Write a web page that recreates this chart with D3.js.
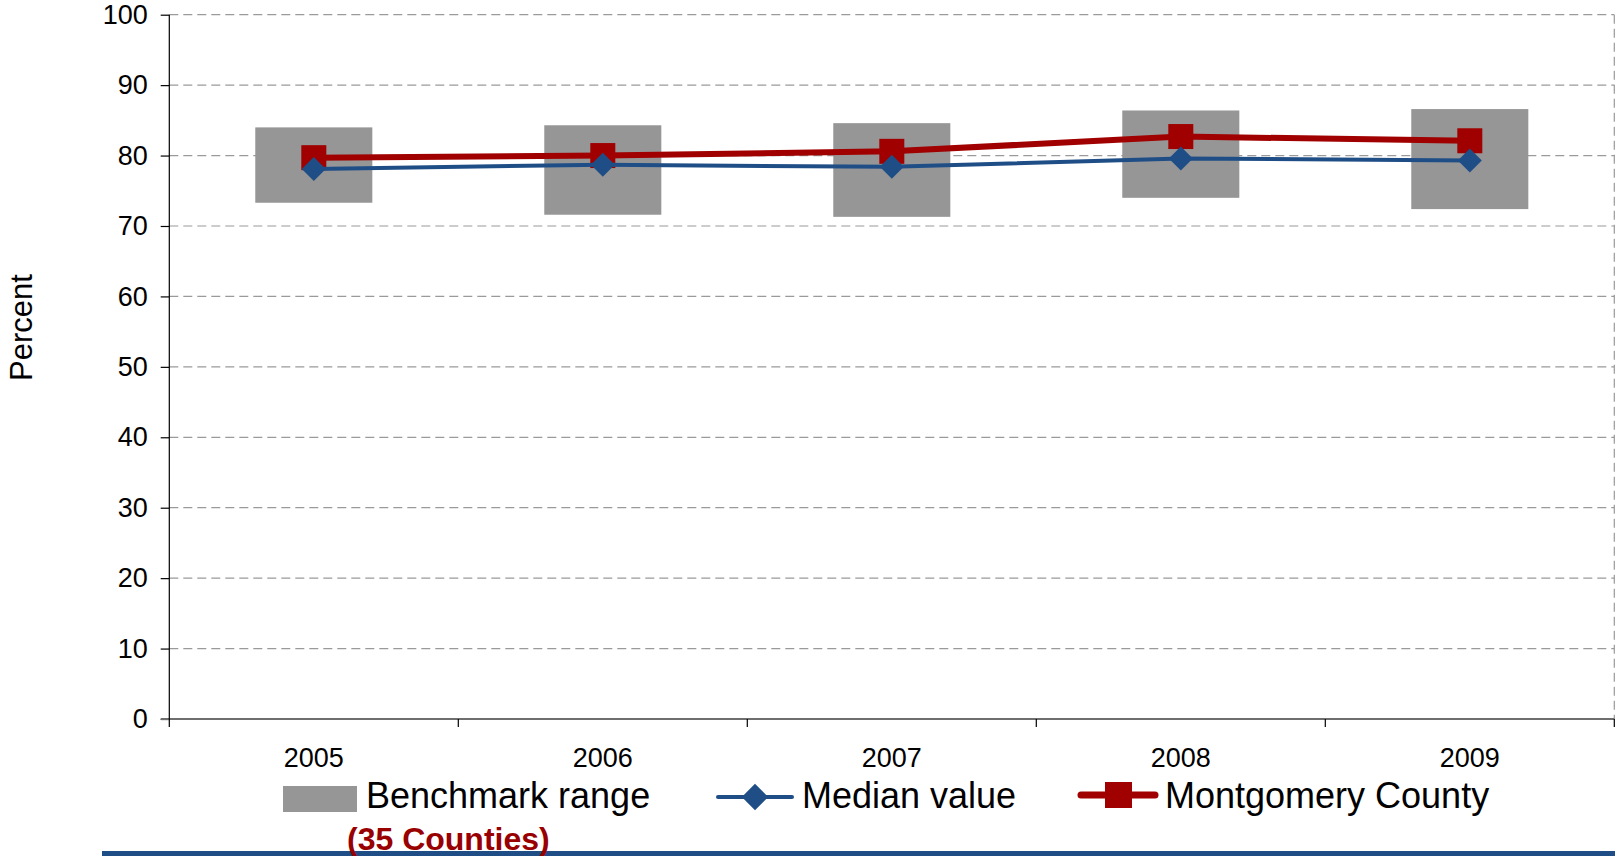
<!DOCTYPE html>
<html>
<head>
<meta charset="utf-8">
<title>Benchmark range</title>
<style>
  body { margin: 0; background: #fff; }
  text { font-family: "Liberation Sans", Arial, sans-serif; }
</style>
</head>
<body>
<script src="https://cdn.jsdelivr.net/npm/d3@7"></script>
<script>
// data
var years = ["2005", "2006", "2007", "2008", "2009"];
var rangeLow = [73.3, 71.6, 71.3, 74.0, 72.4];
var rangeHigh = [84.0, 84.3, 84.6, 86.4, 86.6];
var medianValue = [78.1, 78.7, 78.4, 79.6, 79.3];
var countyValue = [79.7, 80.0, 80.6, 82.7, 82.1];
var yTicks = [0, 10, 20, 30, 40, 50, 60, 70, 80, 90, 100];

var width = 1615, height = 856;
var plotLeft = 169.3, plotRight = 1614.3, plotTop = 14.7, plotBottom = 719;

var svg = d3.select("body").append("svg")
    .attr("width", width)
    .attr("height", height);

var x = d3.scaleBand().domain(years).range([plotLeft, plotRight]).padding(0);
var y = d3.scaleLinear().domain([0, 100]).range([plotBottom, plotTop]);

// gridlines
svg.append("g").selectAll("line")
    .data(yTicks.filter(function(d){ return d > 0; }))
    .enter().append("line")
    .attr("x1", plotLeft).attr("x2", plotRight)
    .attr("y1", function(d){ return y(d); })
    .attr("y2", function(d){ return y(d); })
    .attr("stroke", "#9a9a9a")
    .attr("stroke-width", 1.2)
    .attr("stroke-dasharray", "9,5");

// right dashed border
svg.append("line")
    .attr("x1", plotRight).attr("x2", plotRight)
    .attr("y1", plotTop).attr("y2", plotBottom)
    .attr("stroke", "#9a9a9a")
    .attr("stroke-width", 1.2)
    .attr("stroke-dasharray", "9,5");

// y axis
var yAxis = svg.append("g")
    .attr("transform", "translate(" + plotLeft + ",0)")
    .call(d3.axisLeft(y).tickValues(yTicks).tickSize(8.6).tickPadding(13));
yAxis.select(".domain").remove();
yAxis.selectAll(".tick line").attr("stroke", "#000").attr("stroke-width", 1.2);
yAxis.selectAll(".tick text")
    .attr("font-size", 27)
    .attr("font-family", "Liberation Sans, Arial, sans-serif")
    .attr("fill", "#000");

// x axis
svg.append("line")
    .attr("x1", plotLeft - 8.6).attr("x2", plotRight)
    .attr("y1", plotBottom).attr("y2", plotBottom)
    .attr("stroke", "#6e6e6e").attr("stroke-width", 1.8);
svg.append("line")
    .attr("x1", plotLeft).attr("x2", plotLeft)
    .attr("y1", plotTop).attr("y2", plotBottom + 8)
    .attr("stroke", "#000").attr("stroke-width", 1.2);

var bounds = years.map(function(d){ return x(d); }).concat([plotRight]);
svg.append("g").selectAll("line")
    .data(bounds.slice(1))
    .enter().append("line")
    .attr("x1", function(d){ return d; }).attr("x2", function(d){ return d; })
    .attr("y1", plotBottom).attr("y2", plotBottom + 8)
    .attr("stroke", "#000").attr("stroke-width", 1.2);

svg.append("g").selectAll("text")
    .data(years)
    .enter().append("text")
    .attr("x", function(d){ return x(d) + x.bandwidth() / 2; })
    .attr("y", 767)
    .attr("text-anchor", "middle")
    .attr("font-size", 27)
    .text(function(d){ return d; });

// y title
svg.append("text")
    .attr("transform", "translate(32,327.5) rotate(-90)")
    .attr("text-anchor", "middle")
    .attr("font-size", 31)
    .text("Percent");

// benchmark range boxes
var boxW = x.bandwidth() * 0.405;
svg.append("g").selectAll("rect")
    .data(years)
    .enter().append("rect")
    .attr("x", function(d){ return x(d) + x.bandwidth() / 2 - boxW / 2; })
    .attr("y", function(d, i){ return y(rangeHigh[i]); })
    .attr("width", boxW)
    .attr("height", function(d, i){ return y(rangeLow[i]) - y(rangeHigh[i]); })
    .attr("fill", "#969696");

var cx = function(d, i){ return x(years[i]) + x.bandwidth() / 2; };

// Montgomery County
var line = d3.line().x(cx).y(function(d){ return y(d); });
svg.append("path")
    .datum(countyValue)
    .attr("d", line)
    .attr("fill", "none")
    .attr("stroke", "#a00000")
    .attr("stroke-width", 6);
svg.append("g").selectAll("rect")
    .data(countyValue)
    .enter().append("rect")
    .attr("x", function(d, i){ return cx(d, i) - 12.5; })
    .attr("y", function(d){ return y(d) - 12.5; })
    .attr("width", 25).attr("height", 25)
    .attr("fill", "#a00000");

// Median value
svg.append("path")
    .datum(medianValue)
    .attr("d", line)
    .attr("fill", "none")
    .attr("stroke", "#1f4e87")
    .attr("stroke-width", 4);
var diamond = "M0,-12 L12,0 L0,12 L-12,0 Z";
svg.append("g").selectAll("path")
    .data(medianValue)
    .enter().append("path")
    .attr("transform", function(d, i){ return "translate(" + cx(d, i) + "," + y(d) + ")"; })
    .attr("d", diamond)
    .attr("fill", "#1f4e87");

// legend
var lg = svg.append("g");
lg.append("rect")
    .attr("x", 283).attr("y", 786)
    .attr("width", 74).attr("height", 26)
    .attr("fill", "#969696");
lg.append("text")
    .attr("x", 366).attr("y", 808)
    .attr("font-size", 36)
    .text("Benchmark range");

lg.append("line")
    .attr("x1", 718).attr("x2", 792)
    .attr("y1", 797).attr("y2", 797)
    .attr("stroke", "#1f4e87").attr("stroke-width", 4)
    .attr("stroke-linecap", "round");
lg.append("path")
    .attr("transform", "translate(755,797) scale(1.1)")
    .attr("d", diamond)
    .attr("fill", "#1f4e87");
lg.append("text")
    .attr("x", 802).attr("y", 808)
    .attr("font-size", 36)
    .text("Median value");

lg.append("line")
    .attr("x1", 1081).attr("x2", 1155)
    .attr("y1", 795).attr("y2", 795)
    .attr("stroke", "#a00000").attr("stroke-width", 7)
    .attr("stroke-linecap", "round");
lg.append("rect")
    .attr("x", 1105).attr("y", 782)
    .attr("width", 27).attr("height", 26)
    .attr("fill", "#a00000");
lg.append("text")
    .attr("x", 1165).attr("y", 808)
    .attr("font-size", 36)
    .text("Montgomery County");

// bottom bar
svg.append("rect")
    .attr("x", 102).attr("y", 851)
    .attr("width", width - 102).attr("height", 5)
    .attr("fill", "#1f4e87");

svg.append("text")
    .attr("x", 347).attr("y", 850)
    .attr("font-size", 32)
    .attr("font-weight", "bold")
    .attr("fill", "#990000")
    .text("(35 Counties)");
</script>
</body>
</html>
